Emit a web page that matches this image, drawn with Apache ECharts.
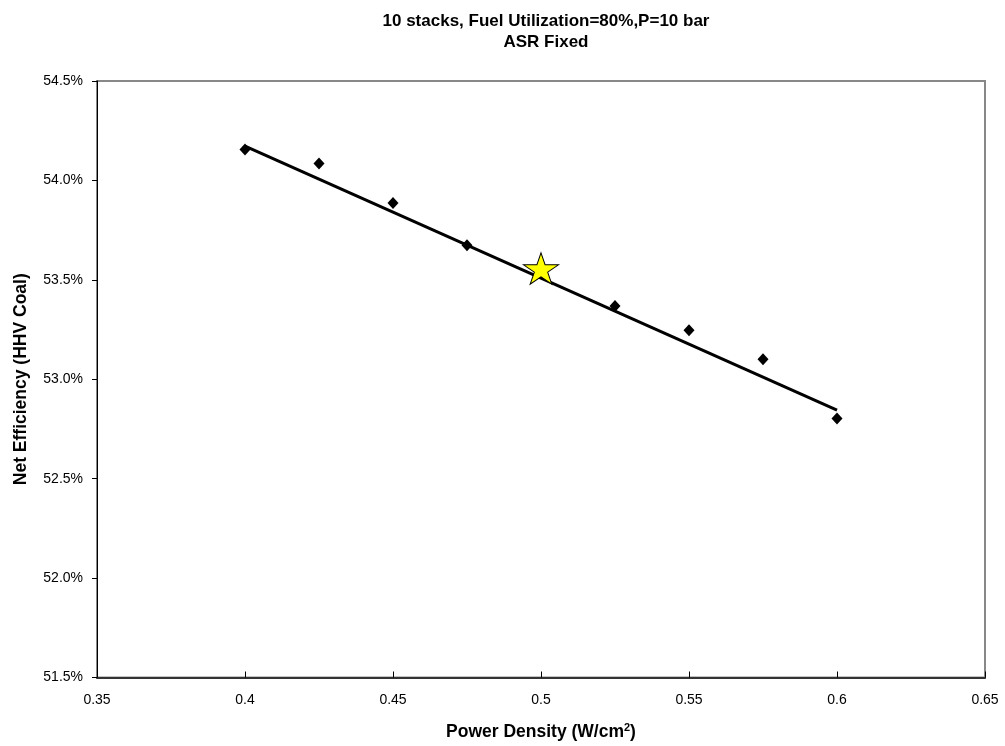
<!DOCTYPE html>
<html>
<head>
<meta charset="utf-8">
<script src="https://cdn.jsdelivr.net/npm/echarts@6/dist/echarts.min.js"></script>
<style>html,body{margin:0;padding:0;background:#fff;}#c{width:1005px;height:746px;}</style>
</head>
<body>
<div id="c"></div>
<script>
// Data (efficiency in %)
const powerDensity = [0.4, 0.425, 0.45, 0.475, 0.5, 0.525, 0.55, 0.575, 0.6];
const netEfficiency = [54.155, 54.085, 53.886, 53.674, 53.557, 53.369, 53.247, 53.101, 52.803];
const designPoint = [0.5, 53.557];
const trendX = [0.4, 0.6];
const trendY = [54.172, 52.845];
const titleLines = ['10 stacks, Fuel Utilization=80%,P=10 bar', 'ASR Fixed'];

const FONT = '"Liberation Sans", Arial, sans-serif';
const starPath = 'path://M100,0 L122.45,69.1 L195.1,69.1 L136.3,111.8 L158.8,180.9 L100,138.2 L41.2,180.9 L63.7,111.8 L4.9,69.1 L77.55,69.1 Z';

const chart = echarts.init(document.getElementById('c'), null, {renderer: 'canvas'});
chart.setOption({
  backgroundColor: '#fff',
  animation: false,
  title: {
    text: titleLines.join('\n'),
    left: 541, top: 6, textAlign: 'center',
    textStyle: {fontFamily: FONT, fontSize: 17, fontWeight: 'bold', color: '#000', lineHeight: 21}
  },
  grid: {left: 97, top: 81, right: 20, bottom: 68, show: true, borderColor: '#888', borderWidth: 2, backgroundColor: '#fff'},
  xAxis: {
    type: 'value', min: 0.35, max: 0.65, interval: 0.05,
    name: 'Power Density (W/cm{sup|2})', nameLocation: 'middle', nameGap: 45,
    nameTextStyle: {fontFamily: FONT, fontSize: 17.5, fontWeight: 'bold', color: '#000',
      rich: {sup: {fontFamily: FONT, fontSize: 11, fontWeight: 'bold', color: '#000', verticalAlign: 'top', padding: [0,0,8,0]}}},
    axisLine: {show: true, onZero: false, lineStyle: {color: '#333', width: 2}},
    axisTick: {show: true, inside: true, length: 6, lineStyle: {color: '#000', width: 1}},
    axisLabel: {fontFamily: FONT, fontSize: 14, color: '#000', margin: 16,
      formatter: v => String(parseFloat(v.toFixed(2)))},
    splitLine: {show: false}
  },
  yAxis: {
    type: 'value', min: 51.5, max: 54.5, interval: 0.5,
    name: 'Net Efficiency (HHV Coal)', nameLocation: 'middle', nameGap: 67, nameRotate: 90,
    nameTextStyle: {fontFamily: FONT, fontSize: 17.5, fontWeight: 'bold', color: '#000'},
    axisLine: {show: true, onZero: false, lineStyle: {color: '#000', width: 1}},
    axisTick: {show: true, inside: false, length: 5, lineStyle: {color: '#000', width: 1}},
    axisLabel: {fontFamily: FONT, fontSize: 14, color: '#000', margin: 14,
      formatter: v => v.toFixed(1) + '%'},
    splitLine: {show: false}
  },
  series: [
    {
      type: 'scatter', symbol: 'diamond', symbolSize: [11, 12],
      itemStyle: {color: '#000', opacity: 1},
      data: powerDensity.map((x, i) => [x, netEfficiency[i]]),
      z: 2
    },
    {
      type: 'line', symbol: 'none', lineStyle: {color: '#000', width: 3},
      data: trendX.map((x, i) => [x, trendY[i]]),
      z: 3
    },
    {
      type: 'scatter', symbol: starPath, symbolSize: [35, 33], symbolKeepAspect: true,
      itemStyle: {color: '#ffff00', borderColor: '#000', borderWidth: 1, opacity: 1},
      data: [designPoint],
      z: 4
    }
  ]
});
</script>
</body>
</html>
